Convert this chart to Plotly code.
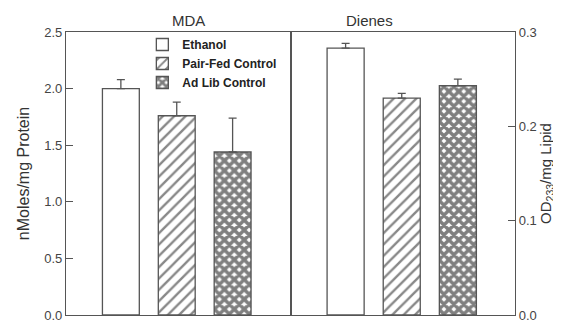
import plotly.graph_objects as go

groups = ["Ethanol", "Pair-Fed Control", "Ad Lib Control"]
positions = [1, 2, 3]
mda_values = [2.00, 1.76, 1.44]
mda_errors = [0.08, 0.12, 0.30]
dienes_values = [0.283, 0.230, 0.243]
dienes_errors = [0.005, 0.005, 0.007]

patterns = [dict(shape=""), dict(shape="/", size=8, solidity=0.3, fgcolor="#111"),
            dict(shape="x", size=7, solidity=0.75, fgcolor="#000")]

line_col = "#555"
fig = go.Figure()
for i, g in enumerate(groups):
    fig.add_trace(go.Bar(
        x=[positions[i]], y=[mda_values[i]], name=g, xaxis="x", yaxis="y",
        width=0.66, marker=dict(color="white", line=dict(color=line_col, width=1.3), pattern=patterns[i]),
        error_y=dict(type="data", array=[mda_errors[i]], arrayminus=[0], color=line_col, thickness=1.3, width=4),
        showlegend=True, legendgroup=g))
    fig.add_trace(go.Bar(
        x=[positions[i]], y=[dienes_values[i]], name=g, xaxis="x2", yaxis="y2",
        width=0.66, marker=dict(color="white", line=dict(color=line_col, width=1.3), pattern=patterns[i]),
        error_y=dict(type="data", array=[dienes_errors[i]], arrayminus=[0], color=line_col, thickness=1.3, width=4),
        showlegend=False, legendgroup=g))

font = dict(family="Liberation Sans, Arial, sans-serif", color="#333")
fig.update_layout(
    width=553, height=314, margin=dict(l=58, r=46, t=24, b=7, autoexpand=False),
    paper_bgcolor="white", plot_bgcolor="white", font=font, barmode="overlay",
    xaxis=dict(domain=[0, 0.5], range=[0.018, 4.036], showticklabels=False, ticks="", automargin=False,
               showgrid=False, zeroline=False, showline=True, mirror=True, linecolor=line_col, linewidth=1.3),
    xaxis2=dict(domain=[0.5, 1], range=[0.018, 4.018], showticklabels=False, ticks="", automargin=False,
                showgrid=False, zeroline=False, showline=True, mirror=True, linecolor=line_col, linewidth=1.3),
    yaxis=dict(range=[0, 2.5], dtick=0.5, tickformat=".1f", anchor="x", ticks="inside", ticklen=7,
               tickcolor=line_col, showgrid=False, zeroline=False, showline=True, mirror=True, automargin=False,
               ticklabeloverflow="allow",
               linecolor=line_col, linewidth=1.3, tickfont=dict(size=13, color="#444"),
               title=dict(text="nMoles/mg Protein", font=dict(size=16, color="#333"), standoff=10)),
    yaxis2=dict(range=[0, 0.3], dtick=0.1, tickformat=".1f", anchor="x2", side="right", ticks="inside",
                ticklen=7, tickcolor=line_col, showgrid=False, zeroline=False, showline=True, mirror=True,
                automargin=False, ticklabeloverflow="allow",
                linecolor=line_col, linewidth=1.3, tickfont=dict(size=13, color="#444"),
                title=dict(text="OD<sub>233</sub>/mg Lipid", font=dict(size=15, color="#333"), standoff=1)),
    legend=dict(x=0.17, y=1.007, xanchor="left", yanchor="top", bgcolor="rgba(0,0,0,0)",
                font=dict(size=12, color="#222", weight="bold"), tracegroupgap=0, itemwidth=30),
    annotations=[
        dict(text="MDA", x=0.231, y=1, xref="paper", yref="paper", yanchor="bottom", showarrow=False,
             font=dict(size=15, color="#333"), yshift=1),
        dict(text="Dienes", x=0.732, y=1, xref="paper", yref="paper", yanchor="bottom", showarrow=False,
             font=dict(size=15, color="#333"), yshift=1),
    ],
)
fig.write_html("out.html")
